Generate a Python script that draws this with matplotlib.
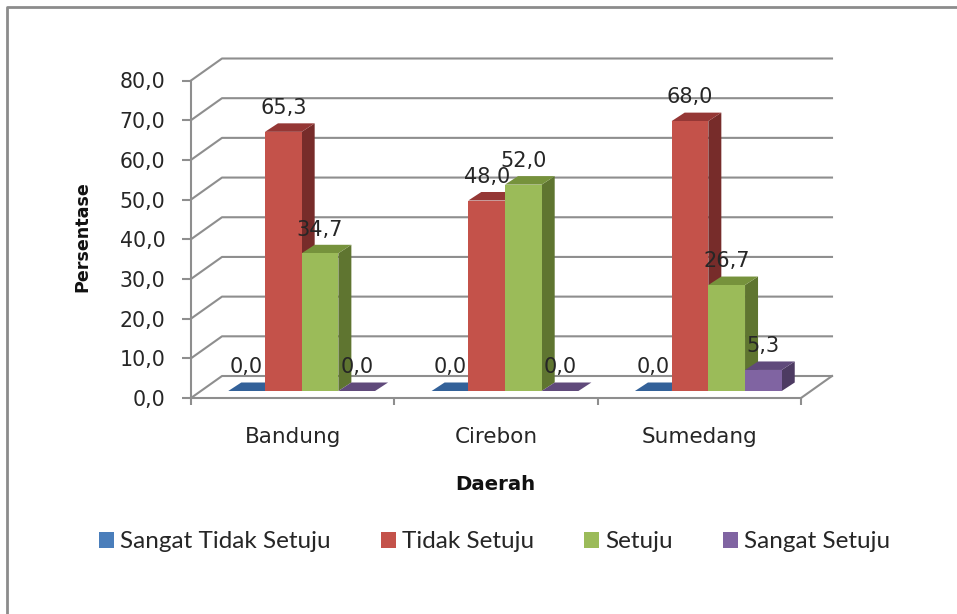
import matplotlib
matplotlib.use('Agg')
import matplotlib.pyplot as plt
from matplotlib.lines import Line2D
from matplotlib.patches import Patch, Polygon

# Data
daerah = ['Bandung', 'Cirebon', 'Sumedang']
sangat_tidak_setuju = [0.0, 0.0, 0.0]
tidak_setuju = [65.3, 48.0, 68.0]
setuju = [34.7, 52.0, 26.7]
sangat_setuju = [0.0, 0.0, 5.3]
y_ticks = [0, 10, 20, 30, 40, 50, 60, 70, 80]

names = ['Sangat Tidak Setuju', 'Tidak Setuju', 'Setuju', 'Sangat Setuju']
series = [sangat_tidak_setuju, tidak_setuju, setuju, sangat_setuju]
# front, side, top
colors = [('#4A7EBB', '#2C4D75', '#336199'),
          ('#C4524A', '#772C2A', '#953735'),
          ('#9BBB59', '#5F7530', '#76923C'),
          ('#8064A2', '#4D3B62', '#604A7B')]

W, H = 957, 614
fig = plt.figure(figsize=(W / 100, H / 100), dpi=100)

# front plane of the fake 3D box, pixel positions from the reference
left, right, bottom, top = 191, 801, 398, 80.5
ax = fig.add_axes([left / W, 1 - bottom / H, (right - left) / W, (bottom - top) / H])
ax.set_xlim(0, 3)
ax.set_ylim(0, 80)
ax.patch.set_visible(False)

# depth offsets, converted from pixels to data units
px_x = 3 / (right - left)
px_y = 80 / (bottom - top)
box_dx, box_dy = 31 * px_x, 22 * px_y
bar_dx0, bar_dy0 = 9 * px_x, 7 * px_y
bar_dx, bar_dy = 13 * px_x, 8.5 * px_y
bar_w = 36.7 * px_x

grid_color = '#8E8E8E'
text_color = '#262626'

# gridlines: diagonal on the side wall then along the back wall
for v in y_ticks:
    ax.plot([0, box_dx, 3 + box_dx], [v, v + box_dy, v + box_dy],
            color=grid_color, lw=1.5, clip_on=False, zorder=1)
ax.plot([3, 3 + box_dx], [0, box_dy], color=grid_color, lw=1.5, clip_on=False, zorder=1)

# bars
z = 3
for i, vals in enumerate(series):
    front, side, roof = colors[i]
    for j, v in enumerate(vals):
        x0 = j + 0.5 + bar_dx0 + (i - 2) * bar_w
        x1 = x0 + bar_w
        y0 = bar_dy0
        y1 = y0 + v
        if v > 0:
            ax.bar(x0, v, bar_w, bottom=y0, align='edge', color=front,
                   edgecolor='none', clip_on=False, zorder=z + 1)
            ax.add_patch(Polygon([(x1, y0), (x1 + bar_dx, y0 + bar_dy),
                                  (x1 + bar_dx, y1 + bar_dy), (x1, y1)],
                                 facecolor=side, edgecolor='none', clip_on=False, zorder=z))
        ax.add_patch(Polygon([(x0, y1), (x1, y1), (x1 + bar_dx, y1 + bar_dy),
                              (x0 + bar_dx, y1 + bar_dy)],
                             facecolor=roof, edgecolor='none', clip_on=False, zorder=z))
        ax.annotate(f'{v:.1f}'.replace('.', ','), (x0 + bar_w / 2, y1 + bar_dy),
                    xytext=(0, 11), textcoords='offset points', ha='center', va='center',
                    fontsize=15, color=text_color, zorder=20, annotation_clip=False)
    z += 2

# axes
for s in ['top', 'right']:
    ax.spines[s].set_visible(False)
for s in ['left', 'bottom']:
    ax.spines[s].set_color(grid_color)
    ax.spines[s].set_linewidth(1.5)
ax.set_yticks(y_ticks, [f'{v:.1f}'.replace('.', ',') for v in y_ticks])
ax.tick_params(axis='y', length=6.5, width=1.5, color=grid_color, pad=12,
               labelsize=14.8, labelcolor=text_color)
ax.set_xticks([0, 1, 2, 3], minor=True)
ax.set_xticks([0.5, 1.5, 2.5], daerah)
ax.tick_params(axis='x', which='major', length=0, pad=21, labelsize=15.5, labelcolor=text_color)
ax.tick_params(axis='x', which='minor', length=5, width=1.5, color=grid_color)

fig.text(82 / W, 1 - 237 / H, 'Persentase', rotation=90, ha='center', va='center',
         fontsize=12.6, fontweight='bold', color='#111111')
fig.text(495 / W, 1 - 484 / H, 'Daerah', ha='center', va='center',
         fontsize=14.2, fontweight='bold', color='#111111')

# legend
handles = [Patch(facecolor=c[0], edgecolor='none') for c in colors]
fig.legend(handles, names, ncol=4, loc='center', bbox_to_anchor=(494.5 / W, 1 - 542 / H),
           frameon=False, prop={'family': 'Lato', 'size': 17.5}, labelcolor=text_color,
           handlelength=0.62, handleheight=0.62, handletextpad=0.25, columnspacing=2.05)

# outer chart frame, open on the right and bottom
fig.add_artist(Line2D([7 / W, 7 / W, 1], [0, 1 - 7 / H, 1 - 7 / H], transform=fig.transFigure,
                      color='#8C8C8C', lw=2))

fig.savefig('out.png', dpi=100)
